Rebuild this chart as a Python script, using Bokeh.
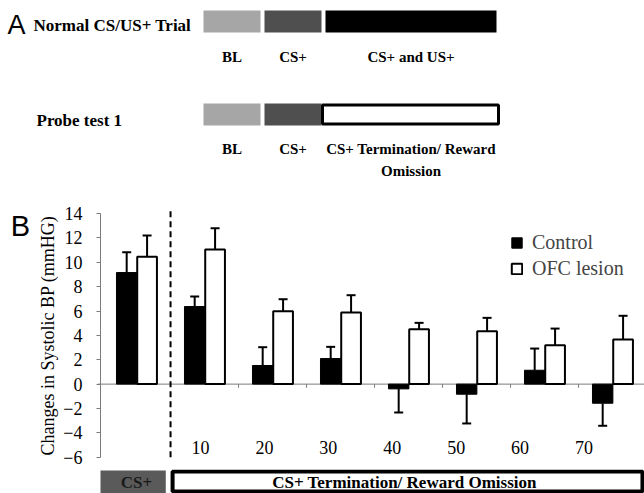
from bokeh.plotting import figure
from bokeh.models import (Range1d, Legend, LegendItem, Whisker, TeeHead, ColumnDataSource,
                          FixedTicker, LinearAxis)
from bokeh.layouts import column
from bokeh.embed import file_html
from bokeh.resources import INLINE
from bokeh.core.properties import value

# ---------------- data ----------------
# Panel A: trial schematic (phase durations in s)
phases_normal = ["BL", "CS+", "CS+ and US+"]
phases_probe = ["BL", "CS+", "CS+ Termination/ Reward\nOmission"]
phase_durations = [10, 10, 30]
row_titles = ["Normal CS/US+ Trial", "Probe test 1"]

# Panel B: change in systolic BP (mmHg)
groups = ["CS+", "10", "20", "30", "40", "50", "60", "70"]
control_mean = [9.16, 6.37, 1.53, 2.10, -0.39, -0.83, 1.14, -1.57]
control_sem = [1.67, 0.83, 1.50, 0.96, 1.94, 2.40, 1.78, 1.85]
ofc_mean = [10.45, 11.05, 5.99, 5.88, 4.50, 4.34, 3.19, 3.66]
ofc_sem = [1.75, 1.75, 0.98, 1.42, 0.53, 1.10, 1.37, 1.95]
y_ticks = [-6, -4, -2, 0, 2, 4, 6, 8, 10, 12, 14]
period_labels = ["CS+", "CS+ Termination/ Reward Omission"]
series_names = ["Control", "OFC lesion"]

SERIF = "Liberation Serif"
SANS = "Liberation Sans"
W = 644

def bare(p):
    p.grid.visible = False
    p.outline_line_color = None
    p.frame_align = False
    return p

# ---------------- panel A ----------------
pa = bare(figure(width=W, height=198, x_range=Range1d(0, W), y_range=Range1d(198, 0),
                 output_backend="svg", toolbar_location=None, min_border=0,
                 x_axis_location=None, y_axis_location=None))

x0, px_per_s, gap = 203, 5.7, 4
lefts, rights = [], []
cur = x0
for d in phase_durations:
    lefts.append(cur)
    rights.append(cur + d * px_per_s)
    cur += d * px_per_s + gap
centers = [(l + r) / 2 for l, r in zip(lefts, rights)]

pa.quad(left=lefts, right=rights, top=10, bottom=32,
        fill_color=["#a6a6a6", "#4f4f4f", "#000000"], line_color=None)
pa.quad(left=lefts[:2], right=rights[:2], top=103, bottom=125,
        fill_color=["#a6a6a6", "#4f4f4f"], line_color=None)
pa.quad(left=[lefts[2] - 3], right=[rights[2] + 2], top=[104.5], bottom=[123.5],
        fill_color="white", line_color="black", line_width=3)

pa.text(x=[7], y=[24], text=["A"], text_font=value(SANS), text_font_size="27px",
        text_baseline="middle", text_color="black")
pa.text(x=[33, 36], y=[25, 120], text=row_titles, text_font=value(SERIF),
        text_font_style="bold", text_font_size="17px", text_baseline="middle")

pa.text(x=centers, y=[56] * 3, text=phases_normal, text_font=value(SERIF),
        text_font_style="bold", text_font_size="15px", text_baseline="middle",
        text_align="center")
lx, ly, lt = [], [], []
for c, lab in zip(centers, phases_probe):
    for k, line in enumerate(lab.split("\n")):
        lx.append(c)
        ly.append(148 + 22 * k)
        lt.append(line)
pa.text(x=lx, y=ly, text=lt, text_font=value(SERIF), text_font_style="bold",
        text_font_size="15px", text_baseline="middle", text_align="center")

# ---------------- panel B ----------------
xr = Range1d(-100 / 68, 8)
pb = bare(figure(width=W, height=271, x_range=xr, y_range=Range1d(-7.01, 15.24),
                 output_backend="svg", toolbar_location=None, min_border=0,
                 x_axis_location=None, y_axis_location=None))

yax = LinearAxis(fixed_location=0)
yax.ticker = FixedTicker(ticks=y_ticks)
yax.bounds = (-6, 14)
yax.axis_line_color = "#7a7a7a"
yax.major_tick_line_color = "#7a7a7a"
yax.major_tick_out = 4
yax.major_tick_in = 0
yax.minor_tick_line_color = None
yax.major_label_text_font = SERIF
yax.major_label_text_font_size = "18px"
yax.major_label_text_color = "black"
yax.major_label_standoff = 14
yax.axis_label = "Changes in Systolic BP (mmHG)"
yax.axis_label_text_font = SERIF
yax.axis_label_text_font_size = "18px"
yax.axis_label_text_font_style = "normal"
yax.axis_label_text_color = "black"
yax.axis_label_standoff = 2
pb.add_layout(yax, "left")

idx = list(range(len(groups)))
def tips(means, sems):
    return [m + s if m >= 0 else m - s for m, s in zip(means, sems)]

src_c = ColumnDataSource(dict(x=[i + 0.385 for i in idx], mean=control_mean,
                              tip=tips(control_mean, control_sem)))
src_o = ColumnDataSource(dict(x=[i + 0.685 for i in idx], mean=ofc_mean,
                              tip=tips(ofc_mean, ofc_sem)))

# zero line with small ticks at group boundaries
pb.segment(x0=[-0.04], y0=[0], x1=[8], y1=[0], line_color="#7a7a7a", line_width=1)
bx = [k + 0.03 for k in range(2, 8)]
pb.segment(x0=bx, y0=[0] * len(bx), x1=bx, y1=[-0.3] * len(bx), line_color="#7a7a7a")

for src in (src_c, src_o):
    pb.add_layout(Whisker(source=src, base="x", lower="mean", upper="tip",
                          dimension="height", line_color="black", line_width=2,
                          upper_head=TeeHead(size=9, line_color="black", line_width=2),
                          lower_head=None, level="glyph"))

rc = pb.vbar(x="x", top="mean", bottom=0, width=0.3, source=src_c,
             fill_color="black", line_color="black", line_width=1)
ro = pb.vbar(x="x", top="mean", bottom=0, width=0.29, source=src_o,
             fill_color="white", line_color="black", line_width=2)

pb.segment(x0=[1.03], y0=[-6], x1=[1.03], y1=[14.2], line_color="black",
           line_width=2, line_dash="6 4")

# time labels
lab_x = [1.47 + 0.94 * k for k in range(len(groups) - 1)]
pb.text(x=lab_x, y=[-5.2] * len(lab_x), text=groups[1:], text_font=value(SERIF),
        text_font_size="18px", text_align="center", text_baseline="middle")

pb.text(x=[-1.32], y=[13.0], text=["B"], text_font=value(SANS), text_font_size="29px",
        text_baseline="alphabetic", text_color="black")

legend = Legend(items=[LegendItem(label=series_names[0], renderers=[rc]),
                       LegendItem(label=series_names[1], renderers=[ro])],
                location=(510, 189), padding=0, margin=0, border_line_color=None,
                background_fill_alpha=0, glyph_width=13, glyph_height=13,
                label_text_font=SERIF, label_text_font_size="20px", label_standoff=9,
                spacing=2, label_height=24)
pb.add_layout(legend)

# ---------------- period bar under panel B ----------------
pc = bare(figure(width=W, height=24, x_range=xr, y_range=Range1d(-8.98, -7.01),
                 output_backend="svg", toolbar_location=None, min_border=0,
                 x_axis_location=None, y_axis_location=None))
pc.quad(left=[0], right=[0.96], top=[-7.09], bottom=[-9.0], fill_color="#5a5a5a",
        line_color=None)
pc.quad(left=[1.06], right=[7.97], top=[-7.18], bottom=[-8.82], fill_color="white",
        line_color="black", line_width=4)
pc.text(x=[0.53, 4.47], y=[-8.08, -8.08], text=period_labels, text_font=value(SERIF),
        text_font_style="bold", text_font_size="17px", text_align="center",
        text_baseline="middle", text_color=["#1a1a1a", "black"])

layout = column(pa, pb, pc)
open("out.html", "w").write(file_html(layout, INLINE))
